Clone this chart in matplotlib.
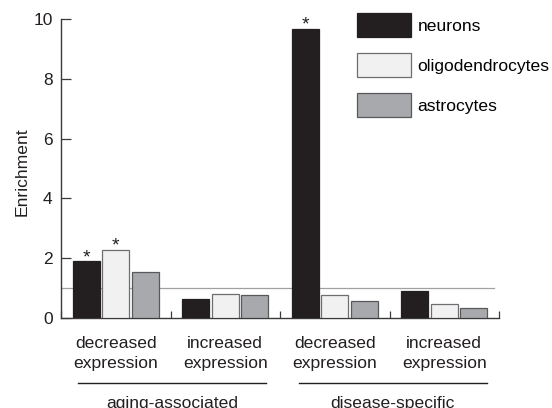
import matplotlib
matplotlib.use("Agg")
import matplotlib.pyplot as plt
import matplotlib.transforms as mtransforms
import numpy as np

plt.rcParams["font.family"] = ["Liberation Sans", "DejaVu Sans"]

# ---- data ----
groups = ["decreased\nexpression", "increased\nexpression",
          "decreased\nexpression", "increased\nexpression"]
cell_types = ["neurons", "oligodendrocytes", "astrocytes"]
neurons = [1.89, 0.62, 9.68, 0.89]
oligodendrocytes = [2.26, 0.79, 0.76, 0.45]
astrocytes = [1.54, 0.76, 0.57, 0.32]
significant = [[True, False, True, False],
               [True, False, False, False],
               [False, False, False, False]]
supergroups = ["aging-associated", "disease-specific"]
yticks = [0, 2, 4, 6, 8, 10]

COLORS = ["#231f20", "#f1f1f2", "#a7a9ac"]
EDGES = ["#231f20", "#6d6e71", "#58595b"]
AXCOL = "#3a3a3a"

fig = plt.figure(figsize=(5.52, 4.08), dpi=100)
ax = fig.add_axes([61 / 552, 1 - 317.7 / 408, 438 / 552, 298.5 / 408])

centers = np.arange(len(groups)) + 0.5
offsets = [-0.27, 0.0, 0.27]
series = [neurons, oligodendrocytes, astrocytes]
for i, (vals, name) in enumerate(zip(series, cell_types)):
    ax.bar(centers + offsets[i], vals, width=0.245, color=COLORS[i],
           edgecolor=EDGES[i], linewidth=0.9, label=name, zorder=3)
    for x, v, s in zip(centers + offsets[i], vals, significant[i]):
        if s:
            ax.annotate("*", (x, v), xytext=(0, -0.5), textcoords="offset points",
                        ha="center", va="baseline", fontsize=14, color="#231f20")

# reference line at enrichment = 1
ax.plot([0, 3.95], [1, 1], color="#a0a0a0", lw=0.9, zorder=2)

ax.set_xlim(0, 4)
ax.set_ylim(0, 10)
ax.set_yticks(yticks)
ax.set_xticks(range(5))
ax.set_xticklabels([])
for s in ["top", "right"]:
    ax.spines[s].set_visible(False)
for s in ["left", "bottom"]:
    ax.spines[s].set_linewidth(1.0)
    ax.spines[s].set_color(AXCOL)
ax.tick_params(axis="y", direction="in", length=7.5, width=0.9, color=AXCOL,
               labelsize=12.5, pad=6, labelcolor="#231f20")
ax.tick_params(axis="x", direction="in", length=5, width=0.9, color=AXCOL)

ax.set_ylabel("Enrichment", fontsize=12.6, color="#231f20")
ax.yaxis.set_label_coords(-0.0715, 0.49)

trans = mtransforms.blended_transform_factory(ax.transData, ax.transAxes)
for c, g in zip(centers, groups):
    ax.text(c, -0.062, g, transform=trans, ha="center", va="top",
            fontsize=12.6, linespacing=1.38, color="#231f20")

lines = [(0.152, 1.872), (2.171, 3.888)]
for (x0, x1), name in zip(lines, supergroups):
    ax.plot([x0, x1], [-0.218, -0.218], transform=trans, color="#231f20",
            lw=1.0, clip_on=False)
    ax.text((x0 + x1) / 2, -0.301, name, transform=trans, ha="center",
            va="baseline", fontsize=12.6, color="#231f20")

ax.legend(loc="upper left", bbox_to_anchor=(357 / 552, 1 - 13.3 / 408),
          bbox_transform=fig.transFigure, frameon=False, fontsize=12.6,
          handlelength=3.1, handleheight=1.7, handletextpad=0.35,
          labelspacing=0.94, borderpad=0, borderaxespad=0)

fig.savefig("out.png", dpi=100)
